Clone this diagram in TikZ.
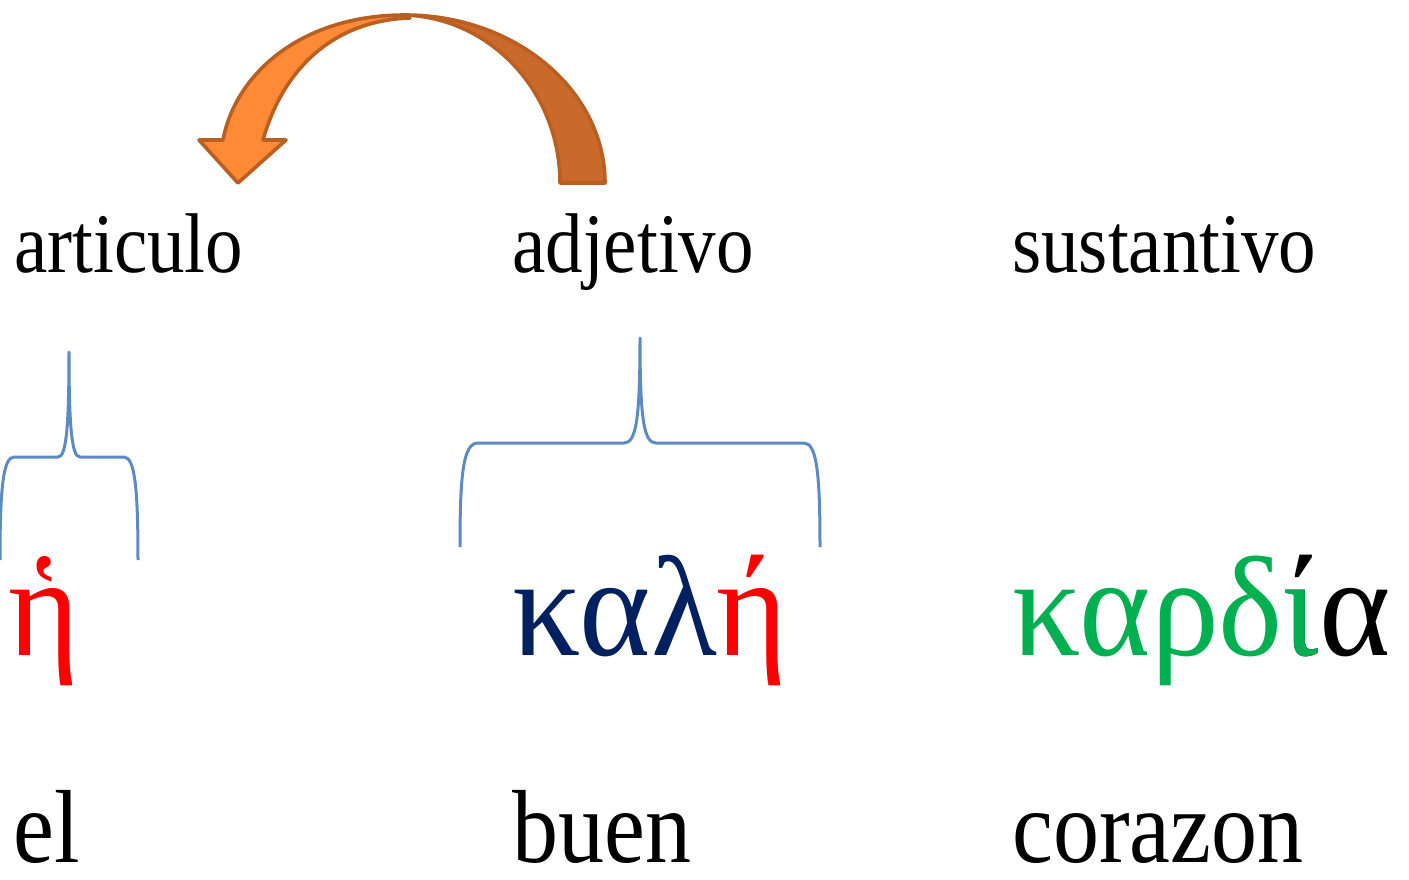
\documentclass[tikz,border=0pt]{standalone}
\usepackage{fontspec}
\usepackage{graphicx}
\setmainfont{Liberation Serif}
\newfontfamily\greekfont{Liberation Serif}
\definecolor{bracecol}{HTML}{5B8AC4}
\definecolor{lightor}{HTML}{FF8A36}
\definecolor{darkor}{HTML}{C96A2B}
\definecolor{orline}{HTML}{B95F22}
\definecolor{gred}{HTML}{FF0000}
\definecolor{gnavy}{HTML}{002060}
\definecolor{ggreen}{HTML}{00B050}
\tikzset{
  toplab/.style={anchor=base west, inner sep=0pt, font=\fontsize{75}{80}\selectfont},
  botlab/.style={anchor=base west, inner sep=0pt, font=\fontsize{92}{96}\selectfont},
  greeklab/.style={anchor=base west, inner sep=0pt, font=\greekfont\fontsize{126}{130}\selectfont},
  bracestyle/.style={draw=bracecol, line width=3pt, line join=round},
  arrowband/.style={draw=orline, line width=3.6pt, line join=round}
}
\newcommand{\vs}[1]{\scalebox{1}[1.13]{#1}}
\newcommand{\gs}[1]{\scalebox{1.08}[1.13]{#1}}
\begin{document}
\begin{tikzpicture}[x=1pt,y=-1pt]
\useasboundingbox (0,0) rectangle (1409,879);
% curved arrow (ribbon)
\path[arrowband, fill=darkor] (605,183) .. controls (605,90) and (515,15) .. (405,15)
  .. controls (491,18) and (560,92) .. (560,183) -- cycle;
\path[arrowband, fill=lightor] (405,15) .. controls (300,15) and (235,75) .. (223,140)
  -- (199,140) -- (238,183) -- (286,140) -- (263,140)
  .. controls (285,62) and (340,20) .. (410,18) -- cycle;
% top row
\node[toplab] (art) at (14,272) {\vs{articulo}};
\node[toplab] (adj) at (512,272) {\vs{adjetivo}};
\node[toplab] (sus) at (1012,272) {\vs{sustantivo}};
% braces
\draw[bracestyle] (0,560) .. controls (0,490) and (3,457) .. (14,457) -- (58,457)
  .. controls (66,457) and (69,430) .. (69,352)
  .. controls (69,430) and (72,457) .. (80,457) -- (124,457)
  .. controls (135,457) and (138,490) .. (138,560);
\draw[bracestyle] (460,547) .. controls (460,475) and (463,443) .. (478,443) -- (624,443)
  .. controls (636,443) and (640,420) .. (640,338)
  .. controls (640,420) and (644,443) .. (656,443) -- (804,443)
  .. controls (817,443) and (820,475) .. (820,547);
% greek row
\node[greeklab] (art-g) at (8,655) {\gs{\textcolor{gred}{ἡ}}};
\node[greeklab] (adj-g) at (512,655) {\gs{\textcolor{gnavy}{καλ}\textcolor{gred}{ή}}};
\node[greeklab] (sus-g) at (1012,655) {\gs{\textcolor{ggreen}{καρδ}\rlap{ί}\textcolor{ggreen}{ι}α}};
% bottom row
\node[botlab] (el) at (13,862) {\vs{el}};
\node[botlab] (buen) at (512,862) {\vs{buen}};
\node[botlab] (cor) at (1012,862) {\vs{corazon}};
\end{tikzpicture}
\end{document}
